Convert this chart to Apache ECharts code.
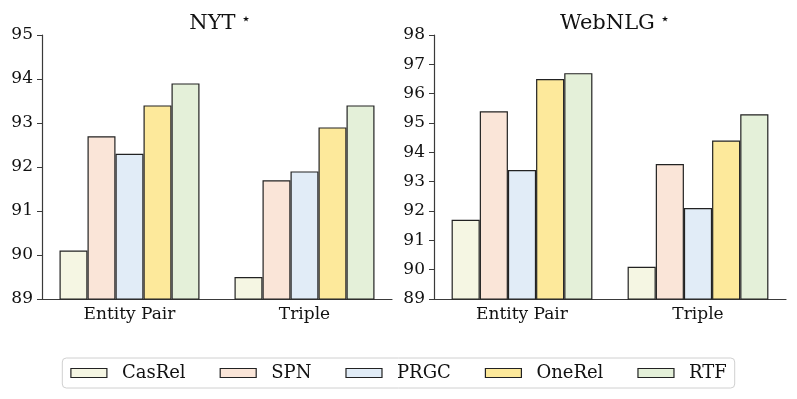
<!DOCTYPE html>
<html>
<head>
<meta charset="utf-8">
<script src="https://cdn.jsdelivr.net/npm/echarts@6/dist/echarts.min.js"></script>
<style>
  html, body { margin: 0; padding: 0; background: #fff; }
  #main { width: 797px; height: 399px; }
</style>
</head>
<body>
<div id="main"></div>
<script>
// 数据
var categories = ['Entity Pair', 'Triple'];
var models = ['CasRel', 'SPN', 'PRGC', 'OneRel', 'RTF'];
var colors = ['#f5f6e3', '#fae5d8', '#e1ecf7', '#fde99b', '#e4f0d9'];

// NYT
var nytCasRel = [90.1, 89.5];
var nytSPN = [92.7, 91.7];
var nytPRGC = [92.3, 91.9];
var nytOneRel = [93.4, 92.9];
var nytRTF = [93.9, 93.4];

// WebNLG
var webCasRel = [91.7, 90.1];
var webSPN = [95.4, 93.6];
var webPRGC = [93.4, 92.1];
var webOneRel = [96.5, 94.4];
var webRTF = [96.7, 95.3];

var nytData = [nytCasRel, nytSPN, nytPRGC, nytOneRel, nytRTF];
var webData = [webCasRel, webSPN, webPRGC, webOneRel, webRTF];

var serif = 'DejaVu Serif';
var axisColor = '#3a3a3a';

function xAxis(idx) {
    return {
        type: 'category',
        gridIndex: idx,
        data: categories,
        axisLine: {lineStyle: {color: axisColor, width: 1.2}},
        axisTick: {show: false},
        axisLabel: {fontFamily: serif, fontSize: 17, color: '#111', margin: 7}
    };
}

function yAxis(idx, max) {
    return {
        type: 'value',
        gridIndex: idx,
        min: 89,
        max: max,
        interval: 1,
        splitLine: {show: false},
        axisLine: {show: true, lineStyle: {color: axisColor, width: 1.2}},
        axisTick: {show: true, length: 5, lineStyle: {color: axisColor}},
        axisLabel: {fontFamily: serif, fontSize: 17, color: '#111', margin: 9}
    };
}

var series = [];
[nytData, webData].forEach(function (group, g) {
    for (var i = 0; i < models.length; i++) {
        series.push({
            name: models[i],
            type: 'bar',
            xAxisIndex: g,
            yAxisIndex: g,
            data: group[i],
            barGap: 0,
            barCategoryGap: '20%',
            itemStyle: {color: colors[i], borderColor: '#222', borderWidth: 1.2}
        });
    }
});

var titleRich = {
    n: {fontFamily: serif, fontSize: 21, fontWeight: 'normal', color: '#111'},
    s: {fontFamily: serif, fontSize: 16, fontWeight: 'normal', color: '#111', padding: [0, 0, 8, 0]}
};

var myChart = echarts.init(document.getElementById('main'));
var option = {
    backgroundColor: '#fff',
    animation: false,
    title: [
        {text: '{n|NYT}{s| ⋆}', left: 215, top: 7, textAlign: 'center', textStyle: {fontWeight: 'normal', rich: titleRich}},
        {text: '{n|WebNLG}{s| ⋆}', left: 610, top: 7, textAlign: 'center', textStyle: {fontWeight: 'normal', rich: titleRich}}
    ],
    legend: {
        data: models,
        left: 'center',
        top: 358,
        icon: 'rect',
        itemWidth: 36,
        itemHeight: 9,
        itemGap: 34,
        padding: [6, 8],
        borderColor: '#d0d0d0',
        borderWidth: 1,
        borderRadius: 4,
        itemStyle: {borderColor: '#222', borderWidth: 1.2},
        textStyle: {fontFamily: serif, fontSize: 18, color: '#111', padding: [0, 0, 0, 10]}
    },
    grid: [
        {left: 42, top: 35, width: 350, height: 264},
        {left: 434, top: 35, width: 352, height: 264}
    ],
    xAxis: [xAxis(0), xAxis(1)],
    yAxis: [yAxis(0, 95), yAxis(1, 98)],
    series: series
};
myChart.setOption(option);
</script>
</body>
</html>
